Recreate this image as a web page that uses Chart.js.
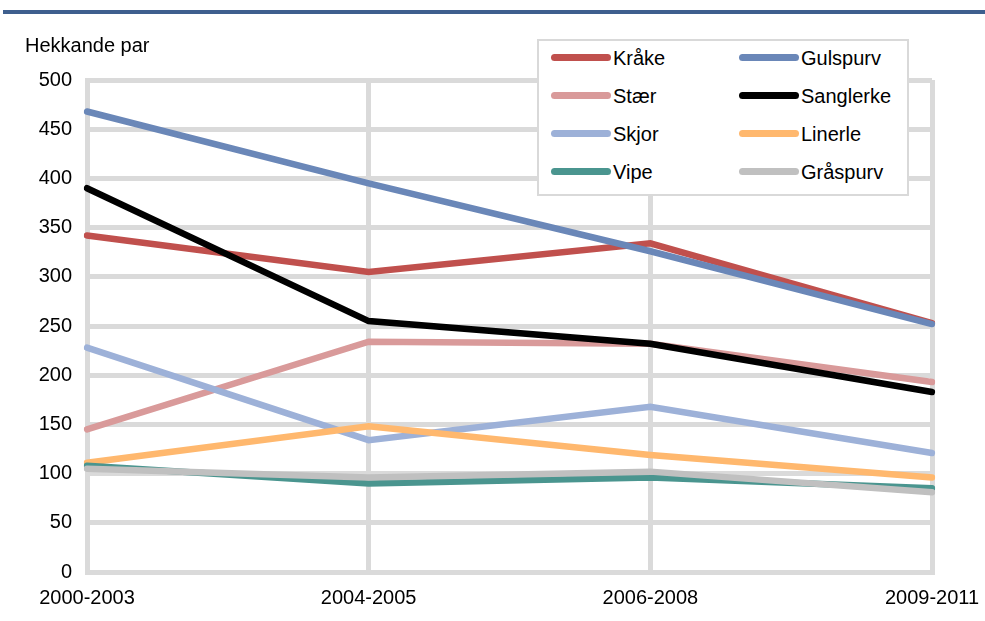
<!DOCTYPE html>
<html>
<head>
<meta charset="utf-8">
<script src="https://cdn.jsdelivr.net/npm/chart.js@4"></script>
<style>
  html, body { margin:0; padding:0; background:#fff; }
  body { width:985px; height:621px; position:relative; overflow:hidden; font-family:"Liberation Sans", Arial, sans-serif; }
  #topline { position:absolute; left:3px; top:10px; width:982px; height:4px; background:#3e5f8e; }
  #wrap { position:absolute; left:0; top:0; width:985px; height:621px; }
  #ytitle { position:absolute; left:25px; top:34px; font-size:20px; color:#000; }
  #legend { position:absolute; left:537px; top:39px; width:372px; height:157px; border:2px solid #d9d9d9; background:#fff; box-sizing:border-box; }
  .item { position:absolute; height:24px; font-size:20px; line-height:24px; color:#000; }
  .swatch { position:absolute; left:0; top:8px; width:60px; height:7px; border-radius:4px; }
  .lbl { position:absolute; left:62px; top:0; white-space:nowrap; }
</style>
</head>
<body>
<div id="topline"></div>
<div id="wrap"><canvas id="c" width="985" height="621"></canvas></div>
<div id="ytitle">Hekkande par</div>
<div id="legend"></div>
<script>
const categories = ["2000-2003", "2004-2005", "2006-2008", "2009-2011"];
const seriesNames = ["Kråke", "Gulspurv", "Stær", "Sanglerke", "Skjor", "Linerle", "Vipe", "Gråspurv"];
const kraake    = [342, 305, 334, 253];
const gulspurv  = [468, 395, 326, 252];
const staer     = [145, 234, 232, 193];
const sanglerke = [390, 255, 232, 183];
const skjor     = [228, 134, 168, 121];
const linerle   = [111, 148, 119, 96];
const vipe      = [108, 90, 96, 85];
const graaspurv = [105, 96, 102, 81];
const seriesValues = [kraake, gulspurv, staer, sanglerke, skjor, linerle, vipe, graaspurv];
const colors = ["#c0504d", "#6a87b8", "#d99a9a", "#000000", "#9db1d8", "#ffb86e", "#4a958f", "#c0c0c0"];
const yTicks = [0, 50, 100, 150, 200, 250, 300, 350, 400, 450, 500];

const FONT = "'Liberation Sans', Arial, sans-serif";

const datasets = seriesNames.map((n, i) => ({
  label: n,
  data: seriesValues[i],
  borderColor: colors[i],
  backgroundColor: colors[i],
  borderWidth: 6.5,
  pointRadius: 0,
  tension: 0,
  fill: false,
  borderCapStyle: 'round',
  borderJoinStyle: 'miter',
  order: seriesNames.length - i
}));

new Chart(document.getElementById('c'), {
  type: 'line',
  data: { labels: categories, datasets },
  options: {
    responsive: false,
    animation: false,
    layout: { padding: { left: 0, right: 53, top: 80, bottom: 0 } },
    plugins: { legend: { display: false }, tooltip: { enabled: false }, title: { display: false } },
    scales: {
      x: {
        offset: false,
        grid: { color: '#dadada', lineWidth: 5, drawTicks: false },
        border: { display: true, color: '#dadada', width: 5 },
        ticks: { color: '#000', font: { family: FONT, size: 20 }, padding: 14, maxRotation: 0, autoSkip: false },
        afterFit: s => { s.height = 49; s.paddingLeft = 0; s.paddingRight = 0; }
      },
      y: {
        min: 0, max: 500,
        afterBuildTicks: s => { s.ticks = yTicks.map(v => ({ value: v })); },
        grid: { color: '#dadada', lineWidth: 5, drawTicks: false },
        border: { display: true, color: '#dadada', width: 5 },
        ticks: { color: '#000', font: { family: FONT, size: 20 }, padding: 15 },
        afterFit: s => { s.width = 87; s.paddingTop = 0; s.paddingBottom = 0; }
      }
    }
  }
});

// HTML legend built from the series arrays (2 columns, row-major)
const leg = document.getElementById('legend');
seriesNames.forEach((n, i) => {
  const col = i % 2, row = Math.floor(i / 2);
  const d = document.createElement('div');
  d.className = 'item';
  d.style.left = (12 + col * 188) + 'px';
  d.style.top = (5 + row * 38) + 'px';
  d.innerHTML = '<span class="swatch" style="background:' + colors[i] + '"></span><span class="lbl">' + n + '</span>';
  leg.appendChild(d);
});
</script>
</body>
</html>
